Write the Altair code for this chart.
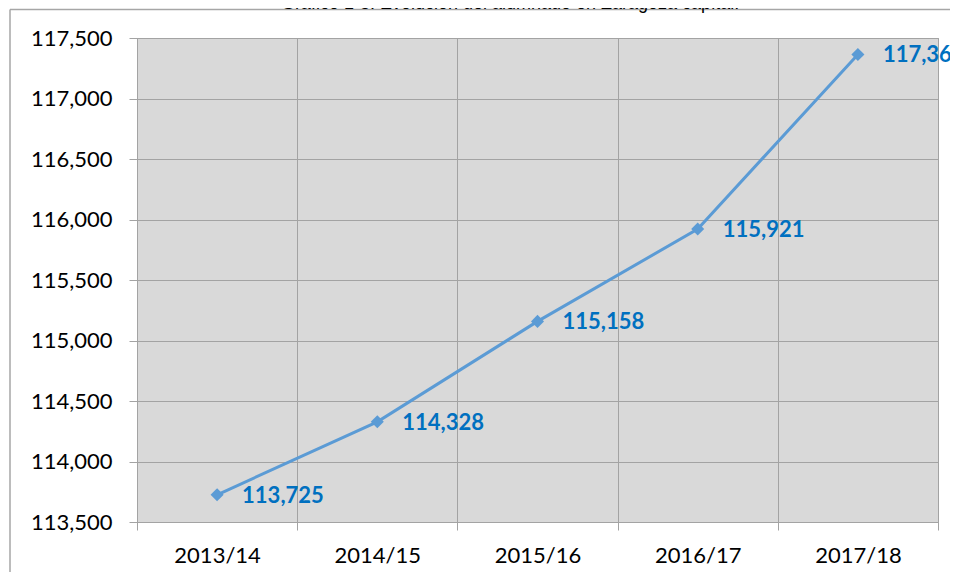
import altair as alt
import pandas as pd

years = ["2013/14", "2014/15", "2015/16", "2016/17", "2017/18"]
students = [113725, 114328, 115158, 115921, 117364]
y_ticks = [113500, 114000, 114500, 115000, 115500, 116000, 116500, 117000, 117500]
title_text = "Gráfico 1-5: Evolución del alumnado en Zaragoza capital."

df = pd.DataFrame({"curso": years, "alumnos": students})
one = pd.DataFrame({"k": [0]})

GRID = "#a3a3a3"
LINE = "#5b9bd5"
LABEL = "#0070c0"

x_enc = alt.X(
    "curso:N",
    sort=years,
    scale=alt.Scale(type="band", paddingInner=0, paddingOuter=0),
    axis=alt.Axis(
        title=None, labelAngle=0, tickBand="extent", grid=True,
        gridColor=GRID, domainColor=GRID, tickColor=GRID, tickSize=8,
        labelFont="Lato", labelFontSize=22, labelColor="black", labelPadding=15,
    ),
)
y_enc = alt.Y(
    "alumnos:Q",
    scale=alt.Scale(domain=[113500, 117500], nice=False, zero=False),
    axis=alt.Axis(
        title=None, values=y_ticks, format=",.0f", grid=True,
        gridColor=GRID, domainColor=GRID, tickColor=GRID, tickSize=8,
        labelFont="Lato", labelFontSize=22, labelColor="black", labelPadding=17,
    ),
)

base = alt.Chart(df)
line = base.mark_line(color=LINE, strokeWidth=3).encode(x=x_enc, y=y_enc)
pts = base.mark_point(shape="diamond", filled=True, size=170, color=LINE, opacity=1).encode(x=x_enc, y=y_enc)
labels = base.mark_text(
    align="left", baseline="middle", dx=25, dy=1,
    font="Lato", fontWeight="bold", fontSize=22, color=LABEL,
).encode(x=x_enc, y=y_enc, text=alt.Text("alumnos:Q", format=",.0f"))

title = alt.Chart(one).mark_text(
    align="center", baseline="alphabetic", font="Liberation Sans", fontSize=18, color="black"
).encode(x=alt.value(373), y=alt.value(-29.5), text=alt.value(title_text))

frame_h = alt.Chart(one).mark_rule(color="#a6a6a6", strokeWidth=1.5).encode(
    x=alt.value(-127), x2=alt.value(821), y=alt.value(-28.5)
)
frame_v = alt.Chart(one).mark_rule(color="#a6a6a6", strokeWidth=1.5).encode(
    x=alt.value(-127), y=alt.value(-28.5), y2=alt.value(545)
)

chart = alt.layer(frame_h, frame_v, title, line, pts, labels).properties(
    width=801, height=484,
    autosize=alt.AutoSizeParams(type="none"),
    padding={"left": 129, "top": 30, "right": 12, "bottom": 50},
    background="white",
).configure_view(fill="#d9d9d9", stroke=GRID)

chart.save("out.html", embed_options={"renderer": "svg", "actions": False})
